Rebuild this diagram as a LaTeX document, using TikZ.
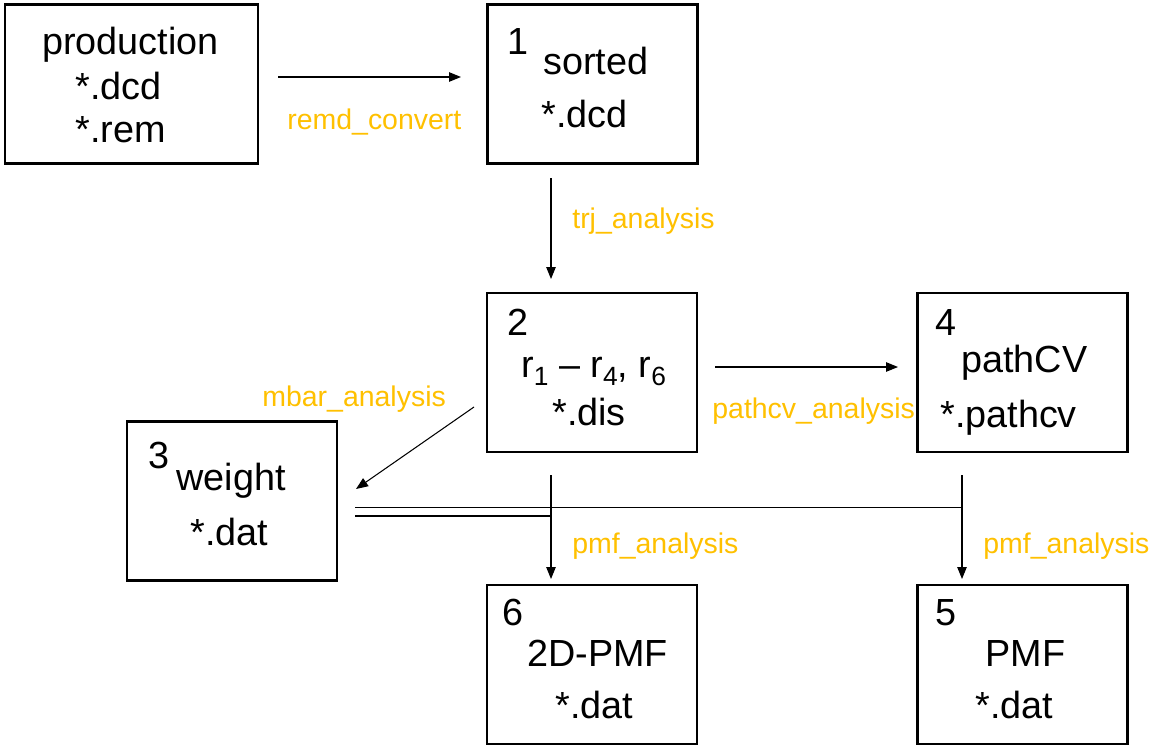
\documentclass[tikz,border=0pt]{standalone}
\usepackage{fontspec}
\setmainfont{Liberation Sans}
\usepackage{tikz}
\usetikzlibrary{arrows.meta}

\definecolor{toolgold}{RGB}{255,192,0}
\newcommand{\rsub}[1]{\raisebox{-0.22em}{\fontsize{15}{15}\selectfont #1}}

\begin{document}
\begin{tikzpicture}[x=0.02cm,y=-0.02cm,
    filebox/.style={draw,line width=1.2pt,inner sep=0,minimum width=4.2cm,minimum height=3.18cm},
    txt/.style={anchor=base west,inner sep=0,font=\fontsize{21.5}{26}\selectfont},
    tool/.style={anchor=base west,inner sep=0,text=toolgold,font=\fontsize{16.2}{20}\selectfont},
    flow/.style={line width=0.6pt,-{Triangle[length=0.24cm,width=0.19cm]}}]
    \useasboundingbox (0,0) rectangle (1170,750);

    % the boxes
    \node [filebox,minimum width=5.06cm] (prod) at (131.5,84) {};
    \node [filebox] (sorted) at (592.5,84) {};
    \node [filebox] (dist) at (592,372.5) {};
    \node [filebox] (pathcv) at (1022.5,372.5) {};
    \node [filebox] (weight) at (232,501) {};
    \node [filebox] (pmftwo) at (592,664.5) {};
    \node [filebox] (pmfone) at (1022.5,664.5) {};

    % what is in them
    \node [txt] (prodA) at (42,55) {production};
    \node [txt] (prodB) at (75,100) {*.dcd};
    \node [txt] (prodC) at (75,143) {*.rem};
    \node [txt] (sortN) at (507,55) {1};
    \node [txt] (sortA) at (543,75) {sorted};
    \node [txt] (sortB) at (541,128) {*.dcd};
    \node [txt] (distN) at (507,335) {2};
    \node [txt] (distA) at (521,377) {r\rsub{1} -- r\rsub{4}, r\rsub{6}};
    \node [txt] (distB) at (552,425) {*.dis};
    \node [txt] (pcvN) at (935,335) {4};
    \node [txt] (pcvA) at (961,372) {pathCV};
    \node [txt] (pcvB) at (940,427) {*.pathcv};
    \node [txt] (wtN) at (148,468) {3};
    \node [txt] (wtA) at (176,490) {weight};
    \node [txt] (wtB) at (190,545) {*.dat};
    \node [txt] (twoN) at (502,625) {6};
    \node [txt] (twoA) at (527,666) {2D-PMF};
    \node [txt] (twoB) at (555,718) {*.dat};
    \node [txt] (oneN) at (935,625) {5};
    \node [txt] (oneA) at (985,666) {PMF};
    \node [txt] (oneB) at (975,718) {*.dat};

    % arrow ends
    \coordinate (convS) at (278,77);
    \coordinate (convE) at (461,77);
    \coordinate (trjS) at (551,178);
    \coordinate (trjE) at (551,279);
    \coordinate (cvS) at (715,367);
    \coordinate (cvE) at (898,367);
    \coordinate (mbarS) at (474,407);
    \coordinate (mbarE) at (356,489);
    \coordinate (pmfaS) at (551,475);
    \coordinate (pmfaE) at (551,579);
    \coordinate (pmfbS) at (962,475);
    \coordinate (pmfbE) at (962,579);
    \coordinate (wtU) at (355,507.5);
    \coordinate (wtL) at (355,516);

    \draw [flow] (convS) -- (convE);
    \draw [flow] (trjS) -- (trjE);
    \draw [flow] (cvS) -- (cvE);
    \draw [flow] (mbarS) -- (mbarE);
    \draw [flow] (pmfaS) -- (pmfaE);
    \draw [flow] (pmfbS) -- (pmfbE);
    \draw [line width=0.6pt] (wtU) -- (wtU -| pmfbS);
    \draw [line width=0.6pt] (wtL) -- (wtL -| pmfaS);

    \node [tool] (convL) at (287,130) {remd\_convert};
    \node [tool] (trjL) at (572,228) {trj\_analysis};
    \node [tool] (cvL) at (712,418) {pathcv\_analysis};
    \node [tool] (mbarL) at (262,406) {mbar\_analysis};
    \node [tool] (pmfaL) at (572,553) {pmf\_analysis};
    \node [tool] (pmfbL) at (983,553) {pmf\_analysis};
\end{tikzpicture}
\end{document}
